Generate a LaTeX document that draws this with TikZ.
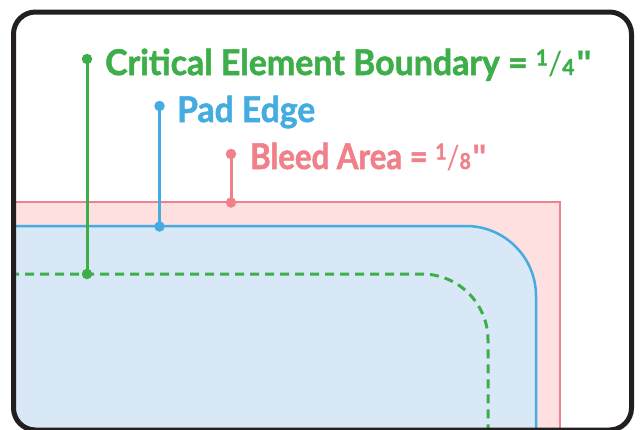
\documentclass[tikz,border=0pt]{standalone}
\usepackage{fontspec}
\setmainfont{Lato}[BoldFeatures={FakeBold=1.6}]
\newfontfamily\qfont{Liberation Sans}
\usepackage{graphicx}
\definecolor{cgreen}{RGB}{62,174,74}
\definecolor{cblue}{RGB}{69,172,226}
\definecolor{cbluefill}{RGB}{217,232,246}
\definecolor{cpink}{RGB}{240,128,137}
\definecolor{cpinkfill}{RGB}{253,224,223}
\definecolor{cframe}{RGB}{35,31,32}
\newlength\fitlen
\newcommand\fitw[2]{\settowidth\fitlen{#2}\pgfmathsetmacro\fitfac{#1/\fitlen}\scalebox{\fitfac}[1]{#2}}
\newcommand\myfrac[2]{\raisebox{9.5pt}{\fontsize{22}{22}\selectfont #1}{\fontsize{33}{33}\selectfont\mdseries /}{\fontsize{22}{22}\selectfont #2}}
\newcommand\inch{\kern0.05em{\qfont\bfseries"}}
\tikzset{
  lbl/.style={anchor=base west, inner sep=0pt, font=\fontsize{35.5}{40}\selectfont\bfseries},
  dotnode/.style={circle, fill, inner sep=0pt, minimum size=10.5pt},
  leader/.style={line width=3pt},
}
\begin{document}
\begin{tikzpicture}[x=1pt,y=-1pt]
\useasboundingbox (0,0) rectangle (642,429);
\begin{scope}
  \clip[rounded corners=22pt] (13.5,12) rectangle (631.5,430);
  \fill[cpinkfill] (-200,202) rectangle (560,600);
  \draw[cpink, line width=2pt] (-200,202) -- (560,202) -- (560,600);
  \fill[cbluefill, rounded corners=70pt] (-200,226) -| (536,600) -- (-200,600) -- cycle;
  \draw[cblue, line width=2.5pt, rounded corners=70pt] (-200,226) -| (536,600);
  \draw[cgreen, line width=3pt, dash pattern=on 9pt off 6pt, rounded corners=66pt] (-200,274) -| (488,600);
\end{scope}
% leaders
\coordinate (g1) at (87,59);
\coordinate (g2) at (87,274);
\coordinate (b1) at (159.5,106);
\coordinate (b2) at (159.5,226.5);
\coordinate (p1) at (231,154);
\coordinate (p2) at (231,202.5);
\draw[leader, cgreen] (g1) -- (g2);
\draw[leader, cblue] (b1) -- (b2);
\draw[leader, cpink] (p1) -- (p2);
\node[dotnode, cgreen] (gd1) at (g1) {};
\node[dotnode, cgreen] (gd2) at (g2) {};
\node[dotnode, cblue] (bd1) at (b1) {};
\node[dotnode, cblue] (bd2) at (b2) {};
\node[dotnode, cpink] (pd1) at (p1) {};
\node[dotnode, cpink] (pd2) at (p2) {};
% labels
\node[lbl, text=cgreen] (tg) at (105,75) {\fitw{487}{Critical Element Boundary = \myfrac{1}{4}\inch}};
\node[lbl, text=cblue] (tb) at (177,122) {\fitw{138}{Pad Edge}};
\node[lbl, text=cpink] (tp) at (250,169) {\fitw{237}{Bleed Area = \myfrac{1}{8}\inch}};
% frame
\draw[cframe, line width=5pt, rounded corners=22pt] (13.5,12) rectangle (631.5,430);
\end{tikzpicture}
\end{document}
